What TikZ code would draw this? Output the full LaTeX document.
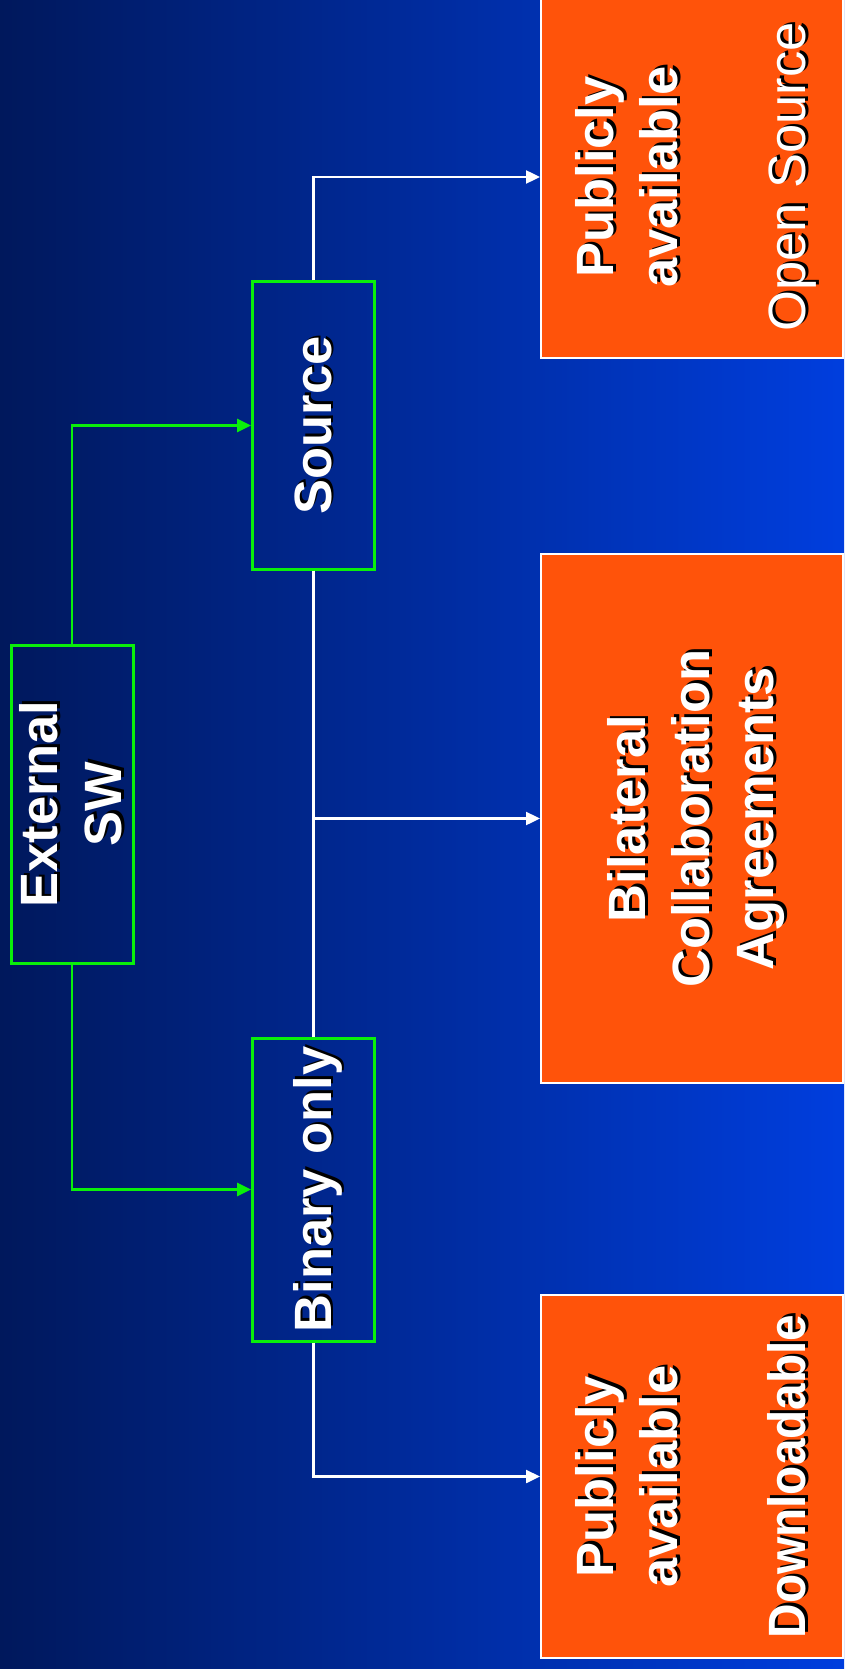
\documentclass[tikz,border=0pt]{standalone}
\usepackage{fontspec}
\setmainfont{Liberation Sans}
\usepackage{graphicx}
\usetikzlibrary{arrows.meta}

\definecolor{bgleft}{RGB}{0,24,92}
\definecolor{bgright}{RGB}{0,62,222}
\definecolor{swgreen}{RGB}{10,240,10}
\definecolor{useorange}{RGB}{255,83,10}

% white text with a black drop shadow
\newcommand\shd[1]{\makebox[0pt][l]{\color{black}\hspace{2.5pt}\raisebox{-2.5pt}{#1}}#1}
% text turned to read upwards
\newcommand\vtext[1]{\makebox[0pt]{\hspace{10pt}\rotatebox{90}{\begin{tabular}{@{}c@{}}#1\end{tabular}}}}

\tikzset{
  swbox/.style={draw=swgreen, line width=3pt, text=white, inner sep=0pt,
    minimum width=122pt, font=\fontsize{52.5}{64}\selectfont\bfseries},
  usebox/.style={draw=white, line width=2pt, fill=useorange, text=white, inner sep=0pt,
    minimum width=302pt, font=\fontsize{52.5}{64}\selectfont\bfseries},
  greenline/.style={draw=swgreen, line width=2.8pt, -{Triangle[length=14pt,width=13pt]}},
  whiteline/.style={draw=white, line width=2.4pt, -{Triangle[length=14pt,width=13pt]}}
}

\begin{document}
\begin{tikzpicture}[x=1pt,y=-1pt]
\useasboundingbox (0,0) rectangle (844,1669);
\shade[left color=bgleft, right color=bgright] (0,0) rectangle (844,1669);

% choice boxes
\node [swbox, minimum height=318pt] (ext) at (72,804) {\vtext{\shd{External}\\\shd{SW}}};
\node [swbox, minimum height=287pt] (src) at (313.5,425.5) {\vtext{\shd{Source}}};
\node [swbox, minimum height=303pt] (bin) at (313.5,1189.5) {\vtext{\shd{Binary only}}};

% outcome boxes
\node [usebox, minimum height=362pt] (pub) at (692,177)
  {\vtext{\shd{Publicly}\\\shd{available}\\ \\\shd{\mdseries Open Source}}};
\node [usebox, minimum height=529pt] (bca) at (692,818.5)
  {\vtext{\shd{Bilateral}\\\shd{Collaboration}\\\shd{Agreements}}};
\node [usebox, minimum height=363pt] (dl) at (692,1476.5)
  {\vtext{\shd{Publicly}\\\shd{available}\\ \\\shd{\scalebox{0.91}[1]{Downloadable}}}};

\draw [greenline] (ext.north) |- (src.west);
\draw [greenline] (ext.south) |- (bin.west);

\draw [whiteline] (src.north) |- (pub.west);
\draw [draw=white, line width=2.4pt] (src.south) -- (bin.north);
\draw [whiteline] (src.south |- bca.west) -- (bca.west);
\draw [whiteline] (bin.south) |- (dl.west);
\end{tikzpicture}
\end{document}
